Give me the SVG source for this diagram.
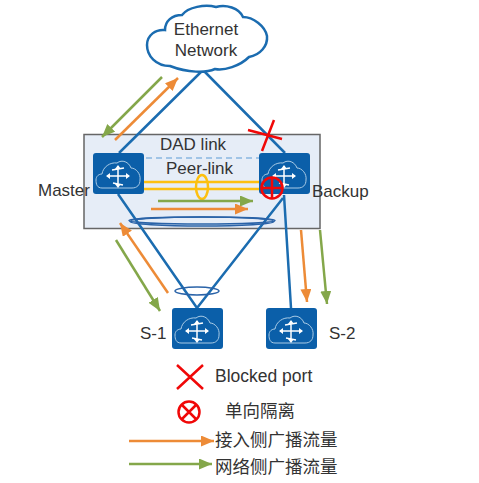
<svg xmlns="http://www.w3.org/2000/svg" xmlns:xlink="http://www.w3.org/1999/xlink" width="479" height="483" viewBox="0 0 479 483">
<style>
text{font-family:"Liberation Sans","Noto Sans CJK SC",sans-serif;font-size:17px;fill:#333}
.cjk{font-size:17.500px}
.link{fill:none;stroke:#1b6cb0;stroke-width:2.500}
.peer{fill:none;stroke:#fdc010;stroke-width:2.500}
.or{fill:none;stroke:#ed8b37;stroke-width:2.500}
.gr{fill:none;stroke:#84a74a;stroke-width:2.500}
.red{fill:none;stroke:#f00808;stroke-width:2.500}
.lag{fill:none;stroke:#2a63a8;stroke-width:1.500}
</style>
<defs>
<marker id="ao" markerUnits="userSpaceOnUse" markerWidth="14" markerHeight="12" refX="13" refY="5.500" orient="auto"><path d="M0 0L13 5.500L0 11Z" fill="#ed8b37"/></marker>
<marker id="ag" markerUnits="userSpaceOnUse" markerWidth="14" markerHeight="12" refX="13" refY="5.500" orient="auto"><path d="M0 0L13 5.500L0 11Z" fill="#84a74a"/></marker>
<g id="sw">
<rect width="51" height="41" rx="3" fill="#0b5fa9"/>
<path d="M9 35C4 35 3 31 3 27C3 23 6 21 9 21C10 14 17 9 24 10C29 6 36 9 38 15C43 15 48 21 47 27C47 32 44 35 39 35Z" fill="none" stroke="#a9cbe6" stroke-width="1"/>
<path d="M14 23H36M25 13V33M19 17L31 15M20 30L30 32" fill="none" stroke="#fff" stroke-width="1.500"/>
<path d="M13 23L17 20V26ZM37 23L33 20V26ZM25 12L22 16H28ZM25 35L22 31H28Z" fill="#fff"/>
</g>
</defs>
<rect id="box" x="84" y="134.500" width="236" height="94" fill="#e6edf7" stroke="#666" stroke-width="1.500"/>
<g id="connectors">
<path class="link" d="M203 70L119 153M203 70L285 153M118 194L197 308M283 198L197 308M284 195L291 308"/>
<path d="M146 158H259" fill="none" stroke="#5b9bd5" stroke-width="1.200" stroke-dasharray="6 4"/>
<path class="peer" d="M144 182H259M144 189H259"/>
<ellipse class="peer" cx="202" cy="187" rx="6" ry="12"/>
<ellipse class="lag" cx="202" cy="220.500" rx="73" ry="3.500"/>
<ellipse class="lag" cx="202" cy="221.500" rx="72" ry="4.500"/>
<ellipse class="lag" cx="197" cy="291" rx="22" ry="4"/>
<path class="gr" marker-end="url(#ag)" d="M162 77L102 137"/>
<path class="or" marker-end="url(#ao)" d="M115 140L178 78"/>
<path class="or" marker-end="url(#ao)" d="M168 293L120 223"/>
<path class="gr" marker-end="url(#ag)" d="M116 240L160 311"/>
<path class="or" marker-end="url(#ao)" d="M301 230L307 302"/>
<path class="gr" marker-end="url(#ag)" d="M320 230L327 304"/>
<path class="gr" marker-end="url(#ag)" d="M158 201H253"/>
<path class="or" marker-end="url(#ao)" d="M151 209H248"/>
</g>
<g id="cloud">
<path d="M170 66C156 66 147 56 147 45C147 35 156 29 165 30C165 21 172 15 182 15C188 7 205 4 216 7C226 4 239 8 243 17C253 17 265 26 267 36C268 46 260 55 249 57C240 66 224 71 215 69C206 73 188 73 170 66Z" fill="#fff" stroke="#1b6cb0" stroke-width="2.500"/>
<text x="206" y="35" text-anchor="middle">Ethernet</text>
<text x="206" y="56" text-anchor="middle">Network</text>
</g>
<g id="master"><use href="#sw" x="93" y="153"/><text x="38" y="196">Master</text></g>
<g id="backup"><use href="#sw" x="259" y="153"/><text x="312" y="197">Backup</text></g>
<g id="s1"><use href="#sw" x="172" y="308"/><text x="140" y="339">S-1</text></g>
<g id="s2"><use href="#sw" x="266" y="308"/><text x="329" y="339">S-2</text></g>
<g id="labels">
<text x="160" y="150">DAD link</text>
<text x="166" y="174">Peer-link</text>
</g>
<g id="blocked"><path class="red" d="M248 130L282 139M274 120L262 151"/></g>
<g id="isolate"><circle class="red" cx="272" cy="188" r="10.500"/><path class="red" d="M261 188H283M272 177V199"/></g>
<g id="legend">
<path class="red" d="M177 365L203 389M203 365L177 389"/>
<text class="cjk" x="215" y="382">Blocked port</text>
<circle class="red" cx="189" cy="412" r="10.500"/>
<path class="red" d="M182 405L196 419M196 405L182 419"/>
<text class="cjk" x="225" y="417">单向隔离</text>
<path class="or" marker-end="url(#ao)" d="M129 441H214"/>
<text class="cjk" x="215" y="446">接入侧广播流量</text>
<path class="gr" marker-end="url(#ag)" d="M129 464H212"/>
<text class="cjk" x="215" y="473">网络侧广播流量</text>
</g>
</svg>
